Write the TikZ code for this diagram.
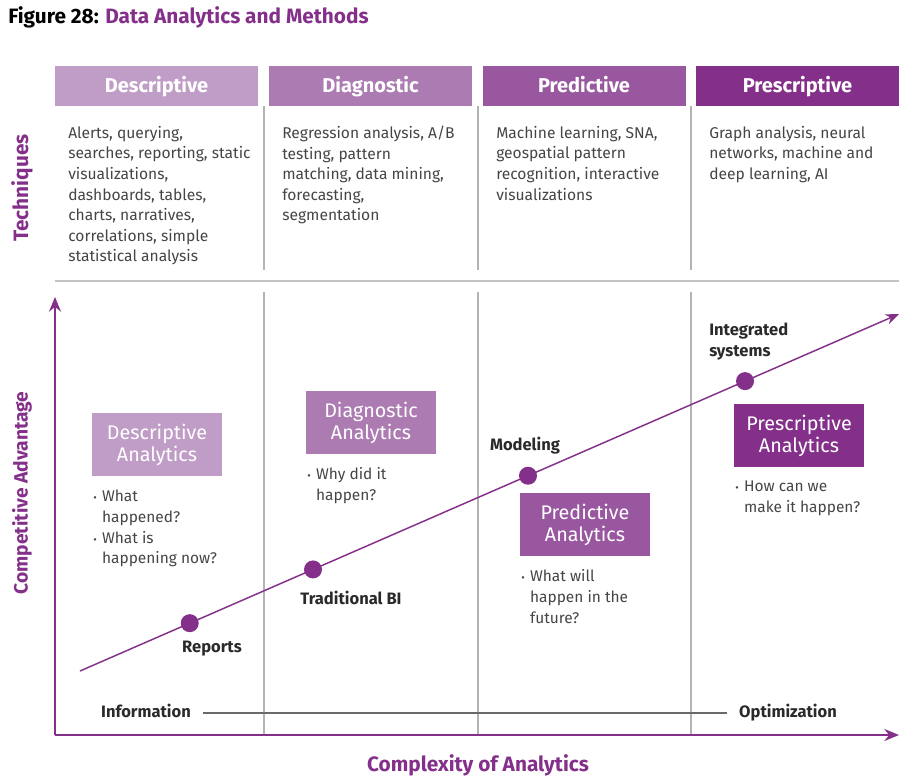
\documentclass[tikz,border=0pt]{standalone}
\usepackage{fontspec}
\setmainfont{Fira Sans}
\usetikzlibrary{arrows.meta}
\usetikzlibrary{positioning}
\definecolor{mpurple}{HTML}{84308A}
\definecolor{mdesc}{HTML}{C09DC6}
\definecolor{mdiag}{HTML}{AB7BB2}
\definecolor{mpred}{HTML}{98579F}
\definecolor{mtext}{HTML}{454545}
\definecolor{mdark}{HTML}{2A2A2A}
\definecolor{mgrid}{HTML}{B4B4B4}
\tikzset{head/.style = {fill = #1, text = white, inner sep = 0,
                        minimum width = 152.25pt, minimum height = 30pt,
                        text height = 11pt, text depth = 2pt,
                        font = \bfseries\fontsize{15}{18}\selectfont}}
\tikzset{tech/.style = {anchor = north west, inner sep = 0, align = left, text = mtext,
                        font = \fontsize{11.7}{15.4}\selectfont}}
\tikzset{abox/.style = {fill = #1, text = white, inner sep = 0, align = center,
                        minimum width = 97.5pt, minimum height = 47.25pt,
                        font = \fontsize{14.8}{16.5}\selectfont}}
\tikzset{bul/.style = {anchor = north west, inner sep = 0, align = left, text = mtext,
                       font = \fontsize{11.6}{15.6}\selectfont}}
\tikzset{lbl/.style = {inner sep = 0, text = mdark, align = left,
                       font = \bfseries\fontsize{12.4}{15.6}\selectfont}}
\tikzset{axlbl/.style = {inner sep = 0, text = mpurple,
                         font = \bfseries\fontsize{15.6}{18}\selectfont}}
\tikzset{dot/.style = {fill = mpurple, circle, inner sep = 0, minimum size = 13.5pt}}
\tikzset{sep/.style = {mgrid, line width = 0.8pt}}
\tikzset{axis/.style = {mpurple, line width = 1.4pt, -{Stealth[length = 11pt, width = 9pt]}}}
\newcommand{\itm}{{\footnotesize\textbullet}\hspace{4pt}}
\newcommand{\ind}{\hphantom{{\footnotesize\textbullet}\hspace{4pt}}}

\begin{document}
\begin{tikzpicture}[x = 0.75pt, y = -0.75pt]
    \useasboundingbox (0, 0) rectangle (920, 775);

    \node [anchor = base west, inner sep = 0, font = \bfseries\fontsize{15.6}{18}\selectfont]
      (title) at (8, 23) {Figure 28: \textcolor{mpurple}{Data Analytics and Methods}};

    % column heads
    \foreach \x/\c/\t in {156.5/mdesc/Descriptive, 370.5/mdiag/Diagnostic,
                          584/mpred/Predictive, 797.5/mpurple/Prescriptive}
      \node [head = \c] (h\t) at (\x, 86) {\t};

    \foreach \x in {264, 478, 691} {
      \draw [sep] (\x, 106) -- (\x, 270);
      \draw [sep] (\x, 292) -- (\x, 735);
    }
    \draw [mgrid!80, line width = 1.1pt] (55, 281) -- (899, 281);

    \node [axlbl, rotate = 90] (techniques) at (22, 188) {Techniques};

    % techniques
    \node [tech] (tDesc) at (68, 126) {Alerts, querying,\\ searches, reporting, static\\ visualizations,\\
      dashboards, tables,\\ charts, narratives,\\ correlations, simple\\ statistical analysis};
    \node [tech] (tDiag) at (282, 126) {Regression analysis, A/B\\ testing, pattern\\
      matching, data mining,\\ forecasting,\\ segmentation};
    \node [tech] (tPred) at (496, 126) {Machine learning, SNA,\\ geospatial pattern\\
      recognition, interactive\\ visualizations};
    \node [tech] (tPres) at (709, 126) {Graph analysis, neural\\ networks, machine and\\
      deep learning, AI};

    % axes
    \coordinate (o) at (55, 735);
    \coordinate (ytop) at (55, 297);
    \coordinate (xend) at (899, 735);
    \draw [axis] (o) -- (ytop);
    \draw [axis] (o) -- (xend);
    \node [axlbl, rotate = 90, font = \bfseries\fontsize{14.4}{18}\selectfont] (compadv)
      at (22, 493) {Competitive Advantage};
    \node [axlbl] (complex) at (478, 765) {Complexity of Analytics};

    % information -- optimization
    \node [lbl, anchor = base] (info) at (146, 717) {Information};
    \node [lbl, anchor = base] (optim) at (788, 717) {Optimization};
    \draw [mdark!70, line width = 0.8pt, shorten < = 9pt, shorten > = 9pt]
      ([yshift = 3pt] info.base east) -- ([yshift = 3pt] optim.base west);

    % trend
    \coordinate (t0) at (80, 671);
    \coordinate (t1) at (899, 314);
    \draw [mpurple, line width = 1.1pt, -{Stealth[length = 10pt, width = 8pt]}] (t0) -- (t1);
    \path (t0) -- (t1)
      node [dot, pos = 0.134] (d1) {}
      node [dot, pos = 0.2845] (d2) {}
      node [dot, pos = 0.547] (d3) {}
      node [dot, pos = 0.812] (d4) {};
    \node [lbl] (reports) at (212, 649) {Reports};
    \node [lbl] (tradbi) at (351, 598) {Traditional BI};
    \node [lbl] (modeling) at (525, 446) {Modeling};
    \node [lbl, anchor = north west] (integ) at (709, 323) {Integrated\\ systems};

    % analytics boxes
    \node [abox = mdesc] (aDesc) at (157, 444.5) {Descriptive\\ Analytics};
    \node [abox = mdiag] (aDiag) at (371, 422.5) {Diagnostic\\ Analytics};
    \node [abox = mpred] (aPred) at (585, 524.5) {Predictive\\ Analytics};
    \node [abox = mpurple] (aPres) at (799, 435.5) {Prescriptive\\ Analytics};

    \node [bul, below = 10pt of aDesc.south west, anchor = north west, xshift = 1pt] (qDesc)
      {\itm What\\ \ind happened?\\ \itm What is\\ \ind happening now?};
    \node [bul, below = 10pt of aDiag.south west, anchor = north west, xshift = 1pt] (qDiag)
      {\itm Why did it\\ \ind happen?};
    \node [bul, below = 10pt of aPred.south west, anchor = north west, xshift = 1pt] (qPred)
      {\itm What will\\ \ind happen in the\\ \ind future?};
    \node [bul, below = 10pt of aPres.south west, anchor = north west, xshift = 1pt] (qPres)
      {\itm How can we\\ \ind make it happen?};
  \end{tikzpicture}
\end{document}
